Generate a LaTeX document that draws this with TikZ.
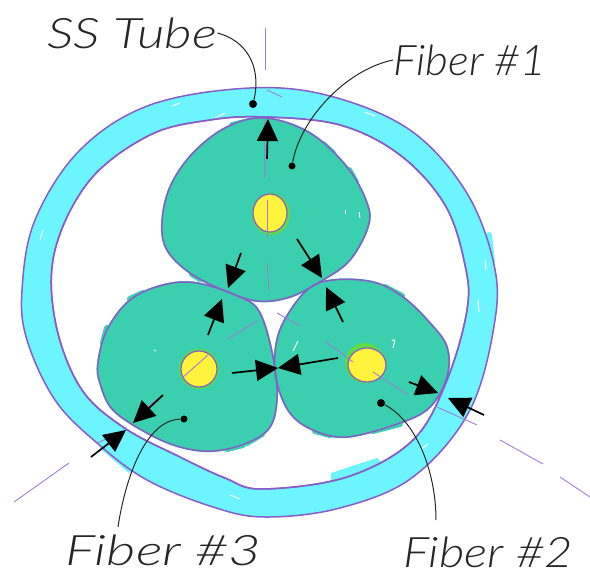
\documentclass[tikz,border=0pt]{standalone}
\usepackage{fontspec}
\newfontfamily\handfont{Lato Light}
\usetikzlibrary{arrows.meta}
\definecolor{tubecyan}{HTML}{6CF5FF}
\definecolor{fibergreen}{HTML}{3ACFAE}
\definecolor{coregreen}{HTML}{5FDB45}
\definecolor{coreyellow}{HTML}{FFF33C}
\definecolor{edgepurple}{HTML}{8A5CC8}
\tikzset{
  contour/.style={draw=edgepurple,line width=1.5pt},
  axis/.style={draw=edgepurple!80,line width=0.9pt},
  dim/.style={draw=black,line width=1.7pt,-{Triangle[length=22pt,width=21pt]}},
  leader/.style={draw=black!85,line width=1pt},
  blob/.style={fill=black,circle,inner sep=0pt,minimum size=8pt},
  hand/.style={font=\fontsize{42}{42}\selectfont\handfont\slshape,text=black!85,inner sep=0pt,transform shape},
  spill/.style={line width=6pt,line cap=round},
  speck/.style={draw=white,line width=1pt},
}
\begin{document}
\begin{tikzpicture}[x=1pt,y=-1pt]
    \useasboundingbox (0,0) rectangle (590,581);
    \providecommand{\outerwall}{(250,88) (330,96) (410,130) (465,190) (493,260) (495,320) (470,410) (413,477) (340,508) (265,517) (213,507) (147,480) (97,443) (55,400) (27,340) (22,290) (35,220) (80,150) (150,105)}
    \providecommand{\innerwall}{(265,117) (340,125) (400,155) (445,205) (465,265) (467,310) (447,380) (413,440) (347,477) (262,489) (225,478) (180,457) (123,427) (80,387) (55,320) (55,250) (90,180) (150,135) (210,120)}
    \providecommand{\fiberone}{(265,118) (310,133) (347,167) (367,203) (368,227) (350,260) (323,280) (290,297) (257,301) (223,290) (190,273) (167,250) (162,223) (170,187) (193,153) (227,127)}
    \providecommand{\fibertwo}{(307,290) (333,280) (373,282) (403,297) (430,323) (447,347) (447,377) (430,407) (400,423) (347,437) (313,430) (290,413) (277,383) (275,353) (283,323)}
    \providecommand{\fiberthree}{(197,283) (240,297) (260,313) (273,357) (277,397) (270,427) (247,443) (213,451) (180,447) (147,433) (113,410) (100,383) (98,363) (107,330) (130,300) (163,285)}
    % tube wall
    \fill[tubecyan,even odd rule] plot[smooth cycle,tension=.6] coordinates {\outerwall} plot[smooth cycle,tension=.6] coordinates {\innerwall};
    \fill[tubecyan] (331,492) -- (331,473) -- (377,458) -- (390,470) -- cycle;
    \draw[spill,tubecyan] (103,447) -- (130,470);
    \draw[spill,tubecyan] (489,235) -- (492,262);
    \draw[speck] (172,106) -- (180,103);
    \draw[speck] (215,118) -- (225,113);
    \draw[speck] (305,118) -- (315,121);
    \draw[speck] (365,112) -- (375,116);
    \draw[speck] (478,300) -- (479,312);
    \draw[speck] (485,260) -- (486,270);
    \draw[speck] (40,240) -- (43,230);
    \draw[speck] (420,450) -- (428,444);
    \draw[speck] (230,495) -- (240,499);
    \draw[contour] plot[smooth cycle,tension=.6] coordinates {\outerwall};
    \draw[contour] plot[smooth cycle,tension=.6] coordinates {\innerwall};
    % fibers
    \filldraw[fibergreen,line width=2pt] plot[smooth cycle,tension=.6] coordinates {\fiberone};
    \filldraw[fibergreen,line width=2pt] plot[smooth cycle,tension=.6] coordinates {\fibertwo};
    \filldraw[fibergreen,line width=2pt] plot[smooth cycle,tension=.6] coordinates {\fiberthree};
    \draw[spill,fibergreen] (232,125) -- (258,119);
    \draw[spill,fibergreen] (323,144) -- (333,153);
    \draw[spill,fibergreen] (349,170) -- (356,182);
    \draw[spill,fibergreen] (192,274) -- (200,279);
    \draw[spill,fibergreen] (130,299) -- (143,293);
    \draw[spill,fibergreen] (107,328) -- (103,343);
    \draw[spill,fibergreen] (385,287) -- (402,296);
    \draw[spill,fibergreen] (315,431) -- (330,435);
    \draw[spill,fibergreen] (373,431) -- (400,424);
    \draw[spill,fibergreen] (227,449) -- (243,445);
    \draw[spill,fibergreen] (247,443) -- (262,434);
    \draw[speck] (92,222) -- (90,229);
    \draw[speck] (183,149) -- (189,146);
    \draw[speck] (345,210) -- (345,214);
    \draw[speck] (359,212) -- (360,218);
    \draw[speck] (154,350) -- (156,351);
    \draw[speck] (395,340) -- (393,348);
    \draw[speck] (394,339) -- (392,341);
    \draw[speck] (293,351) -- (298,341);
    % cores
    \fill[coregreen] (271,214) ellipse (19 and 21);
    \fill[coregreen] (199,369) circle (20);
    \fill[coregreen] (365,363) circle (20);
    \filldraw[fill=coreyellow,draw=edgepurple,line width=1.2pt] (270,213) ellipse (17 and 19);
    \filldraw[fill=coreyellow,draw=edgepurple,line width=1.2pt] (199,369) ellipse (18 and 18);
    \filldraw[fill=coreyellow,draw=edgepurple,line width=1.2pt] (367,365) ellipse (19 and 17);
    % contours once more over the spills
    \draw[contour] plot[smooth cycle,tension=.6] coordinates {\fiberone};
    \draw[contour] plot[smooth cycle,tension=.6] coordinates {\fibertwo};
    \draw[contour] plot[smooth cycle,tension=.6] coordinates {\fiberthree};
    \draw[contour] plot[smooth cycle,tension=.6] coordinates {\innerwall};
    % center lines
    \draw[axis] (265,28) -- (265,70);
    \draw[axis] (267,90) -- (282,97);
    \draw[axis] (264,120) -- (264,178);
    \draw[axis] (267,200) -- (267,238);
    \draw[axis] (267,263) -- (269,290);
    \draw[axis] (257,321) -- (228,339);
    \draw[axis] (208,355) -- (182,378);
    \draw[axis] (163,395) -- (147,407);
    \draw[axis] (125,431) -- (97,443);
    \draw[axis] (69,463) -- (14,502);
    \draw[axis] (277,313) -- (300,326);
    \draw[axis] (325,341) -- (353,362);
    \draw[axis] (373,372) -- (408,395);
    \draw[axis] (437,407) -- (477,425);
    \draw[axis] (500,440) -- (543,464);
    \draw[axis] (560,477) -- (590,497);
    % dimension arrows
    \draw[dim] (267,159) -- (268,119);
    \draw[dim] (297,239) -- (322,278);
    \draw[dim] (241,253) -- (228,288);
    \draw[dim] (208,335) -- (222,299);
    \draw[dim] (163,395) -- (133,423);
    \draw[dim] (232,373) -- (278,368);
    \draw[dim] (338,358) -- (278,368);
    \draw[dim] (343,322) -- (326,287);
    \draw[dim] (409,382) -- (438,393);
    \draw[dim] (484,415) -- (448,398);
    \draw[dim] (91,457) -- (126,430);
    % labels
    \node[hand,anchor=west,xscale=1.27] (sstube) at (47,33) {SS Tube};
    \node[hand,anchor=west,xscale=1.05] (fiberonelabel) at (393,60) {Fiber \#1};
    \node[hand,anchor=west,xscale=1.35] (fiberthreelabel) at (65,550) {Fiber \#3};
    \node[hand,anchor=west,xscale=1.17] (fibertwolabel) at (403,552) {Fiber \#2};
    \node[blob] (sstubedot) at (253,104) {};
    \node[blob,minimum size=7pt] (fiberonedot) at (292,166) {};
    \node[blob,minimum size=7pt] (fiberthreedot) at (184,419) {};
    \node[blob] (fibertwodot) at (381,403) {};
    \coordinate (fiberthreefree) at (118,527);
    \coordinate (fibertwofree) at (436,520);
    \draw[leader] (sstube.east) .. controls (245,40) and (262,65) .. (sstubedot);
    \draw[leader] (fiberonelabel.west) .. controls (345,70) and (300,120) .. (fiberonedot);
    \draw[leader] (fiberthreefree) .. controls (125,480) and (145,420) .. (fiberthreedot);
    \draw[leader] (fibertwofree) .. controls (436,470) and (415,420) .. (fibertwodot);
\end{tikzpicture}
\end{document}
